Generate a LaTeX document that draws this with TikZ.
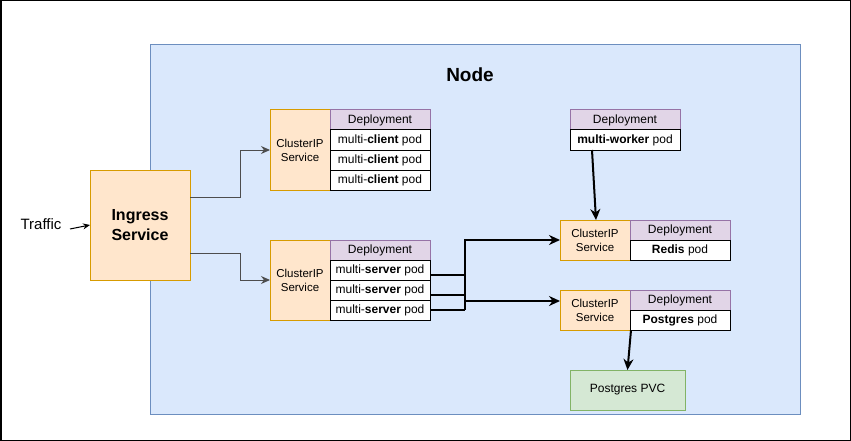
\documentclass[tikz,border=0pt]{standalone}
\usepackage{fontspec}
\setmainfont{Liberation Sans}
\usetikzlibrary{arrows.meta,calc}
\definecolor{nodefill}{HTML}{DAE8FC}
\definecolor{nodedraw}{HTML}{6C8EBF}
\definecolor{orfill}{HTML}{FFE6CC}
\definecolor{ordraw}{HTML}{D79B00}
\definecolor{pufill}{HTML}{E1D5E7}
\definecolor{pudraw}{HTML}{9673A6}
\definecolor{grfill}{HTML}{D5E8D4}
\definecolor{grdraw}{HTML}{82B366}
\definecolor{conn}{HTML}{4D4D4D}
\begin{document}
\begin{tikzpicture}[x=1pt,y=-1pt,
  every node/.style={inner sep=0pt, outer sep=0pt, anchor=north west, line width=1pt},
  cip/.style={draw=ordraw, fill=orfill, minimum width=#1, align=center, font=\fontsize{11.5}{14}\selectfont},
  cip/.default=60,
  dep/.style={draw=pudraw, fill=pufill, minimum width=#1, minimum height=20, font=\fontsize{12}{13}\selectfont},
  dep/.default=100,
  pod/.style={draw=black, fill=white, minimum width=#1, minimum height=20, font=\fontsize{12}{13}\selectfont},
  pod/.default=100,
  thinarrow/.style={draw=conn, line width=1pt, -{Stealth[length=9pt,width=8pt]}},
  thickline/.style={draw=black, line width=2pt},
  thickarrow/.style={draw=black, line width=2pt, -{Stealth[length=11pt,width=10pt]}}
]
\useasboundingbox (0,0) rectangle (851,441);
\draw[line width=1.5pt] (0.75,0.75) rectangle (850.25,440.25);
% Node
\node[draw=nodedraw, fill=nodefill, minimum width=650, minimum height=369] (node) at (150,45) {};
\node[anchor=center, font=\fontsize{19}{21}\selectfont\bfseries] (nodetitle) at (470,75) {Node};
% Ingress
\node[draw=ordraw, fill=orfill, minimum width=100, minimum height=110, align=center, font=\fontsize{16}{20}\selectfont\bfseries] (ing) at (90,170) {Ingress\\Service};
\node[anchor=center, font=\fontsize{15}{17}\selectfont] (traffic) at (41,224) {Traffic};
\coordinate (tr) at (70,229);
\draw[draw=black, line width=1pt, -{Stealth[length=7pt,width=6pt]}] (tr) -- (ing.west);
% Client group
\node[cip, minimum height=80] (c1) at (270,110) {ClusterIP\\Service};
\node[dep] (cd) at (330,110) {Deployment};
\node[pod] (cp1) at (330,130) {multi-\textbf{client} pod};
\node[pod] (cp2) at (330,150) {multi-\textbf{client} pod};
\node[pod] (cp3) at (330,170) {multi-\textbf{client} pod};
% Server group
\node[cip, minimum height=80] (c2) at (270,240) {ClusterIP\\Service};
\node[dep] (sd) at (330,240) {Deployment};
\node[pod] (sp1) at (330,260) {multi-\textbf{server} pod};
\node[pod] (sp2) at (330,280) {multi-\textbf{server} pod};
\node[pod] (sp3) at (330,300) {multi-\textbf{server} pod};
% Worker
\node[dep=110] (wd) at (570,110) {Deployment};
\node[pod=110] (wp) at (570,130) {\textbf{multi-worker} pod};
% Redis
\node[cip=70, minimum height=40] (rc) at (560,220) {ClusterIP\\Service};
\node[dep] (rd) at (630,220) {Deployment};
\node[pod] (rp) at (630,240) {\textbf{Redis} pod};
% Postgres
\node[cip=70, minimum height=40] (pc) at (560,290) {ClusterIP\\Service};
\node[dep] (pd) at (630,290) {Deployment};
\node[pod] (pp) at (630,310) {\textbf{Postgres} pod};
% PVC
\node[draw=grdraw, fill=grfill, minimum width=115, minimum height=40, font=\fontsize{12}{13}\selectfont] (pvc) at (570,370) {Postgres PVC};
% Ingress connectors
\draw[thinarrow] ($(ing.east)+(0,-28)$) -- ++(50,0) |- (c1.west);
\draw[thinarrow] ($(ing.east)+(0,28)$) -- ++(50,0) |- (c2.west);
% Server connectors
\coordinate (jt) at (465,240);
\coordinate (jb) at (465,310);
\coordinate (jm) at (465,301);
\draw[thickline] ($(sp1.east)+(0,5)$) -- ($(sp1.east)+(36,5)$);
\draw[thickline] ($(sp2.east)+(0,5)$) -- ($(sp2.east)+(36,5)$);
\draw[thickline] (sp3.east) -- (jb);
\draw[thickarrow] (jb) |- (rc.west);
\draw[thickarrow] (jm) -- ($(pc.west)+(0,-9)$);
% Worker -> Redis
\draw[thickarrow] ($(wp.south west)+(22,0)$) -- ($(rc.north)+(1,0)$);
% Postgres -> PVC
\draw[thickarrow] ($(pc.south east)+(1,0)$) -- (pvc.north);
\end{tikzpicture}
\end{document}
